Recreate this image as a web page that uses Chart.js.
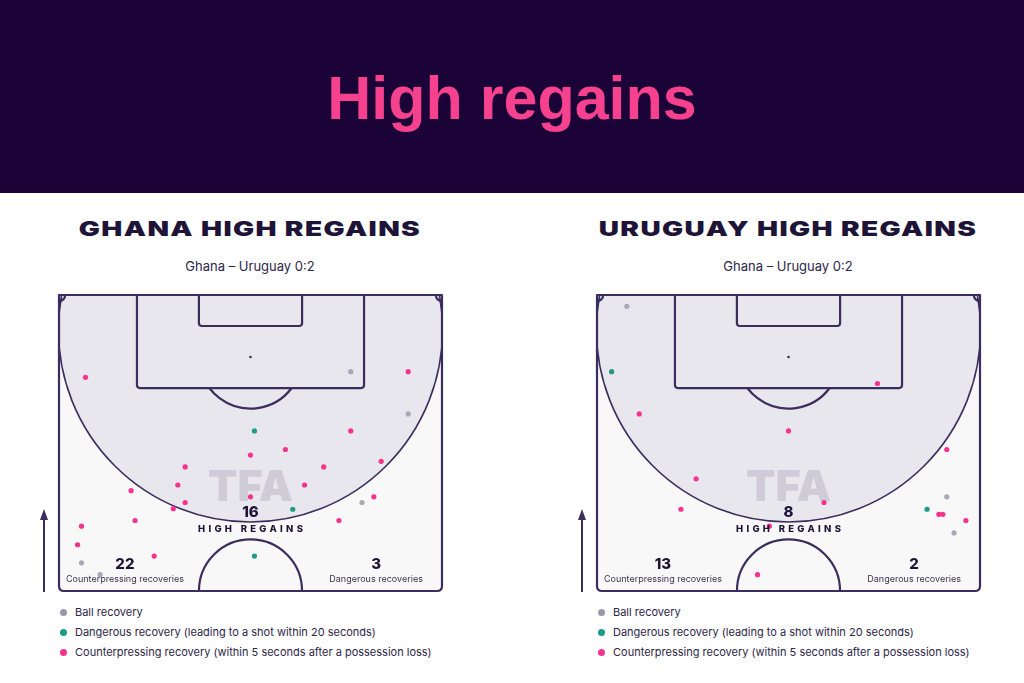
<!DOCTYPE html>
<html>
<head>
<meta charset="utf-8">
<script src="https://cdn.jsdelivr.net/npm/chart.js@4.4.0/dist/chart.umd.min.js"></script>
<style>
  body{margin:0;width:1024px;height:683px;background:#fff;position:relative;overflow:hidden;font-family:Inter,"Noto Sans",sans-serif;color:#1e1438}
  #head{position:absolute;left:0;top:0;width:1024px;height:193px;background:#1b0338}
  #head h1{margin:0;position:absolute;left:0;width:1024px;top:63px;text-align:center;font:bold 61px "Liberation Sans",Arial,sans-serif;color:#f6418f}
  .ttl{position:absolute;width:460px;text-align:center;font-weight:900;font-size:20px;letter-spacing:1px;color:#1e1438;transform:scaleX(1.4)}
  .sub{position:absolute;width:460px;text-align:center;font-size:13px;color:#2e2648}
  .box{position:absolute;top:285px;width:420px;height:315px}
  .leg{position:absolute;font-size:11px;color:#2e2648}
  .leg div{height:20px;line-height:12px;position:relative;padding-left:15.5px}
  .leg span{position:absolute;left:0;top:3px;width:7px;height:7px;border-radius:50%}
</style>
</head>
<body>
<div id="head"><h1>High regains</h1></div>

<div class="ttl" style="left:20px;top:217px">GHANA HIGH REGAINS</div>
<div class="sub" style="left:20px;top:258px">Ghana – Uruguay 0:2</div>
<div class="ttl" style="left:558px;top:217px">URUGUAY HIGH REGAINS</div>
<div class="sub" style="left:558px;top:258px">Ghana – Uruguay 0:2</div>

<div class="box" style="left:40px"><canvas id="c1" width="420" height="315"></canvas></div>
<div class="box" style="left:578px"><canvas id="c2" width="420" height="315"></canvas></div>

<div class="leg" style="left:59.5px;top:606px">
  <div><span style="background:#9a98ac"></span>Ball recovery</div>
  <div><span style="background:#1f9a85"></span>Dangerous recovery (leading to a shot within 20 seconds)</div>
  <div><span style="background:#f5338f"></span>Counterpressing recovery (within 5 seconds after a possession loss)</div>
</div>
<div class="leg" style="left:597.5px;top:606px">
  <div><span style="background:#9a98ac"></span>Ball recovery</div>
  <div><span style="background:#1f9a85"></span>Dangerous recovery (leading to a shot within 20 seconds)</div>
  <div><span style="background:#f5338f"></span>Counterpressing recovery (within 5 seconds after a possession loss)</div>
</div>

<script>
// pitch half: x 0..68 m across, y 0..52.5 m from the goal line
const pitchW = 68, pitchH = 52.5;

// Ghana recoveries [x, y] in metres
const ghanaBall = [[51.8,13.6],[62.0,21.1],[53.8,36.8],[4.0,47.5],[7.3,49.6]];
const ghanaDanger = [[34.7,24.1],[41.5,38.0],[34.7,46.3]];
const ghanaCounter = [[4.7,14.6],[62.0,13.6],[51.8,24.1],[34.0,28.4],[40.2,27.4],[22.4,30.5],[47.0,30.5],
  [57.2,29.5],[12.8,34.7],[21.1,33.7],[43.6,33.7],[22.4,36.8],[34.0,35.8],[20.3,37.9],[55.9,35.8],
  [13.5,40.0],[49.7,40.0],[4.0,41.0],[3.3,44.3],[16.9,46.3]];

// Uruguay recoveries
const uruBall = [[5.3,2.0],[62.1,35.8],[63.4,42.2]];
const uruDanger = [[2.6,13.6],[58.6,38.0]];
const uruCounter = [[49.8,15.7],[7.5,21.1],[34.0,24.1],[62.1,27.4],[17.6,32.6],[40.3,36.8],[14.9,38.0],
  [60.7,38.9],[61.4,38.9],[65.5,40.0],[30.6,41.0],[28.5,49.6]];

// totals printed on each pitch: high regains, counterpressing, dangerous
const ghanaTotals = [16, 22, 3];
const uruTotals = [8, 13, 2];

const lineCol = '#3b2d5e';

const pitchPlugin = {
  id:'pitch',
  beforeDatasetsDraw(chart){
    const ctx = chart.ctx, xs = chart.scales.x, ys = chart.scales.y;
    const X = v => xs.getPixelForValue(v), Y = v => ys.getPixelForValue(v);
    const k = (X(pitchW) - X(0)) / pitchW;
    const L = X(0), R = X(pitchW), T = Y(0), B = Y(pitchH);
    ctx.save();
    // background + shaded zone
    ctx.fillStyle = '#f8f8f9';
    ctx.fillRect(L, T, R-L, B-T);
    ctx.save();
    ctx.beginPath(); ctx.rect(L, T, R-L, B-T); ctx.clip();
    ctx.beginPath(); ctx.arc(X(34), Y(6.2), 34.1*k, 0, Math.PI*2);
    ctx.fillStyle = '#e9e7ee'; ctx.fill();
    ctx.strokeStyle = lineCol; ctx.lineWidth = 1.6; ctx.stroke();
    ctx.restore();

    // TFA watermark
    ctx.fillStyle = 'rgba(185,183,196,0.55)';
    ctx.font = '900 43px Inter, sans-serif';
    ctx.textAlign = 'center'; ctx.textBaseline = 'middle';
    ctx.fillText('TFA', X(34), T + 193);

    ctx.strokeStyle = lineCol; ctx.lineWidth = 2.2; ctx.lineJoin = 'round';
    // outline with rounded bottom corners
    const rr = 5;
    ctx.beginPath();
    ctx.moveTo(L, T); ctx.lineTo(R, T); ctx.lineTo(R, B-rr);
    ctx.quadraticCurveTo(R, B, R-rr, B); ctx.lineTo(L+rr, B);
    ctx.quadraticCurveTo(L, B, L, B-rr); ctx.closePath(); ctx.stroke();
    // boxes
    const box = (x0, x1, d) => {
      const r = 3;
      ctx.beginPath();
      ctx.moveTo(X(x0), T); ctx.lineTo(X(x0), Y(d)-r);
      ctx.quadraticCurveTo(X(x0), Y(d), X(x0)+r, Y(d));
      ctx.lineTo(X(x1)-r, Y(d)); ctx.quadraticCurveTo(X(x1), Y(d), X(x1), Y(d)-r);
      ctx.lineTo(X(x1), T); ctx.stroke();
    };
    box(13.84, 54.16, 16.5);
    box(24.84, 43.16, 5.5);
    // penalty spot
    ctx.fillStyle = lineCol;
    ctx.beginPath(); ctx.arc(X(34), Y(11), 1.3, 0, Math.PI*2); ctx.fill();
    // penalty arc
    const a = Math.asin(5.5/9.15);
    ctx.beginPath(); ctx.arc(X(34), Y(11), 9.15*k, a, Math.PI-a); ctx.stroke();
    // centre circle
    ctx.beginPath(); ctx.arc(X(34), B, 9.15*k, Math.PI, Math.PI*2); ctx.stroke();
    // corner arcs
    ctx.beginPath(); ctx.arc(L, T, 1.1*k, 0, Math.PI/2); ctx.stroke();
    ctx.beginPath(); ctx.arc(R, T, 1.1*k, Math.PI/2, Math.PI); ctx.stroke();

    // direction arrow
    const ax = L - 15;
    ctx.lineWidth = 2;
    ctx.beginPath(); ctx.moveTo(ax, B+1); ctx.lineTo(ax, T+222); ctx.stroke();
    ctx.beginPath(); ctx.moveTo(ax-4, T+225); ctx.lineTo(ax, T+214); ctx.lineTo(ax+4, T+225); ctx.closePath(); ctx.fill();
    ctx.restore();
  },
  afterDatasetsDraw(chart){
    const ctx = chart.ctx, xs = chart.scales.x, ys = chart.scales.y;
    const X = v => xs.getPixelForValue(v);
    const T = ys.getPixelForValue(0);
    const tot = chart.options.plugins.pitch.totals;
    ctx.save();
    ctx.fillStyle = '#1e1438'; ctx.textAlign = 'center'; ctx.textBaseline = 'middle';
    ctx.font = '800 15px Inter, sans-serif';
    ctx.fillText(String(tot[0]), X(34), T + 217);
    ctx.fillText(String(tot[1]), X(11.7), T + 269);
    ctx.fillText(String(tot[2]), X(56.3), T + 269);
    ctx.font = '800 9.5px Inter, sans-serif';
    ctx.letterSpacing = '3.3px';
    ctx.fillText('HIGH REGAINS', X(34)+1.6, T + 234.5);
    ctx.letterSpacing = '0px';
    ctx.font = '9px Inter, sans-serif';
    ctx.fillStyle = '#3a3350';
    ctx.fillText('Counterpressing recoveries', X(11.7), T + 284);
    ctx.fillText('Dangerous recoveries', X(56.3), T + 284);
    ctx.restore();
  }
};

function makePitch(id, ball, danger, counter, totals){
  const toPts = arr => arr.map(p => ({x:p[0], y:p[1]}));
  const ds = (lab, arr, col) => ({label:lab, data:toPts(arr), backgroundColor:col, borderColor:col,
    pointRadius:2.6, borderWidth:0, clip:false});
  new Chart(document.getElementById(id).getContext('2d'), {
    type:'scatter',
    data:{datasets:[
      ds('Ball recovery', ball, '#a9a8b8'),
      ds('Dangerous recovery', danger, '#1f9a85'),
      ds('Counterpressing recovery', counter, '#f5338f')
    ]},
    options:{
      responsive:false, animation:false, devicePixelRatio:1,
      layout:{padding:{left:19, right:18, top:10, bottom:9}},
      scales:{
        x:{type:'linear', min:0, max:pitchW, display:false},
        y:{type:'linear', min:0, max:pitchH, reverse:true, display:false}
      },
      plugins:{legend:{display:false}, tooltip:{enabled:false}, pitch:{totals:totals}}
    },
    plugins:[pitchPlugin]
  });
}

makePitch('c1', ghanaBall, ghanaDanger, ghanaCounter, ghanaTotals);
makePitch('c2', uruBall, uruDanger, uruCounter, uruTotals);
</script>
</body>
</html>
